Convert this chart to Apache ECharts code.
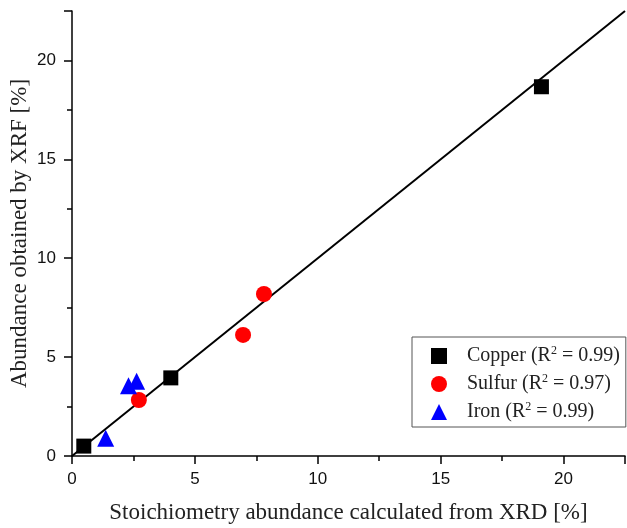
<!DOCTYPE html>
<html>
<head>
<meta charset="utf-8">
<script src="https://cdn.jsdelivr.net/npm/echarts@6/dist/echarts.min.js"></script>
<style>html,body{margin:0;padding:0;background:#fff}#c{width:627px;height:528px}</style>
</head>
<body>
<div id="c"></div>
<script>
const seriesNames = ['Copper', 'Sulfur', 'Iron'];
const r2Values = ['0.99', '0.97', '0.99'];
const copperData = [[0.48, 0.50], [4.02, 3.95], [19.1, 18.67]];
const sulfurData = [[2.72, 2.83], [6.96, 6.12], [7.81, 8.19]];
const ironData = [[1.37, 0.90], [2.30, 3.55], [2.63, 3.78]];
const fitLine = [[0, 0], [22.5, 22.5]];
const xTitle = 'Stoichiometry abundance calculated from XRD [%]';
const yTitle = 'Abundance obtained by XRF [%]';

const chart = echarts.init(document.getElementById('c'), null, {renderer: 'canvas'});
const axisCommon = {
  type: 'value', min: 0, max: 22.5, interval: 5,
  axisLine: {show: true, lineStyle: {color: '#000', width: 1.5}},
  axisTick: {show: true, inside: false, length: 8, lineStyle: {color: '#000', width: 1.5}},
  minorTick: {show: true, splitNumber: 2, length: 5, lineStyle: {color: '#000', width: 1.5}},
  splitLine: {show: false},
  nameLocation: 'middle',
  nameMoveOverlap: false,
  nameTextStyle: {color: '#222', fontFamily: 'Liberation Serif', fontSize: 23}
};
const labelCommon = {color: '#111', fontFamily: 'Liberation Sans', fontSize: 17, showMaxLabel: false};
const option = {
  animation: false,
  backgroundColor: '#fff',
  grid: {left: 72, right: 2, top: 11, bottom: 72, containLabel: false, outerBoundsMode: 'none'},
  xAxis: Object.assign({}, axisCommon, {name: xTitle, nameGap: 45,
    axisLabel: Object.assign({}, labelCommon, {margin: 15})}),
  yAxis: Object.assign({}, axisCommon, {name: yTitle, nameGap: 41,
    axisLabel: Object.assign({}, labelCommon, {margin: 16})}),
  legend: {
    orient: 'vertical', left: 412, top: 337,
    data: seriesNames,
    borderColor: '#555', borderWidth: 1, borderRadius: 0,
    padding: [8, 6, 5, 19],
    itemWidth: 16, itemHeight: 16, itemGap: 7,
    formatter: function (name) {
      const i = seriesNames.indexOf(name);
      return '{a|' + name + ' (R}{s|2}{a| = ' + r2Values[i] + ')}';
    },
    textStyle: {
      padding: [0, 0, 0, 15],
      rich: {
        a: {fontFamily: 'Liberation Serif', fontSize: 20, color: '#222', lineHeight: 22},
        s: {fontFamily: 'Liberation Serif', fontSize: 12, color: '#222', lineHeight: 12, verticalAlign: 'top'}
      }
    }
  },
  series: [
    {type: 'line', data: fitLine, showSymbol: false, symbol: 'none', silent: true,
     lineStyle: {color: '#000', width: 2}, z: 1},
    {name: 'Copper', type: 'scatter', data: copperData, symbol: 'rect', symbolSize: 15,
     itemStyle: {color: '#000', opacity: 1}, z: 3},
    {name: 'Sulfur', type: 'scatter', data: sulfurData, symbol: 'circle', symbolSize: 16,
     itemStyle: {color: '#ff0000', opacity: 1}, z: 3},
    {name: 'Iron', type: 'scatter', data: ironData, symbol: 'triangle', symbolSize: 17,
     itemStyle: {color: '#0000ff', opacity: 1}, z: 3}
  ]
};
chart.setOption(option);
</script>
</body>
</html>
